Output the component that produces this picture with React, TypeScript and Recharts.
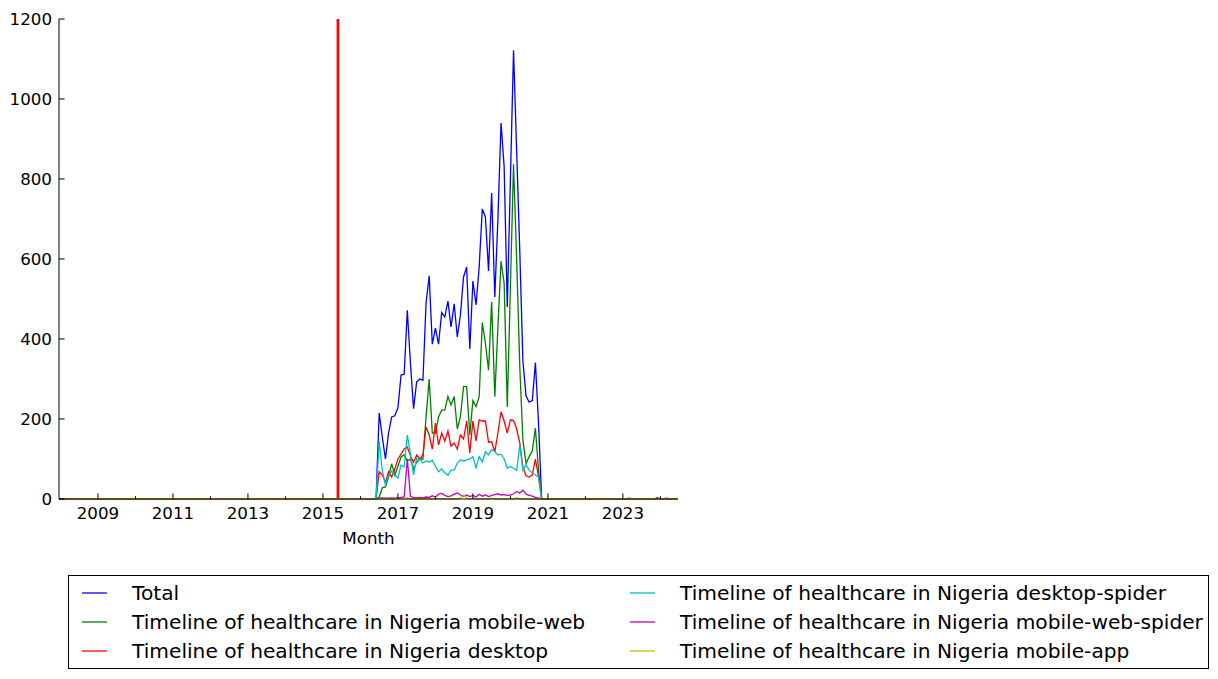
import React from 'react';
import { LineChart, Line, XAxis, YAxis, ReferenceLine } from 'recharts';

// monthly page views, Jul 2016 .. Oct 2020 (everything else is zero)
const FIRST_ACTIVE = '2016-07';

const TOTAL = [
  215, 155, 100, 165, 205, 208,
  228, 310, 312, 472, 340, 226, 293, 300, 297, 490, 558, 387,
  427, 387, 466, 455, 495, 430, 488, 405, 460, 555, 580, 375,
  545, 485, 580, 725, 705, 570, 765, 505, 700, 940, 830, 480,
  800, 1122, 870, 620, 345, 258, 242, 246, 341, 190,
];
const MOBILE_WEB = [
  5, 28, 30, 55, 88, 60,
  82, 105, 110, 95, 100, 75, 92, 100, 100, 205, 300, 165,
  165, 205, 222, 222, 256, 235, 256, 175, 206, 281, 281, 160,
  246, 231, 256, 441, 389, 322, 493, 256, 430, 595, 539, 230,
  530, 837, 600, 331, 147, 89, 106, 120, 177, 72,
];
const DESKTOP = [
  68, 60, 42, 68, 55, 75,
  100, 112, 125, 130, 108, 92, 110, 100, 110, 180, 160, 125,
  190, 135, 165, 145, 170, 132, 140, 125, 160, 150, 195, 115,
  195, 145, 198, 195, 195, 142, 143, 118, 165, 218, 195, 165,
  198, 196, 175, 140, 80, 58, 55, 60, 100, 55,
];
const DESKTOP_SPIDER = [
  145, 70, 35, 58, 70, 60,
  52, 85, 80, 160, 112, 60, 102, 100, 90, 95, 92, 97,
  82, 68, 75, 65, 60, 72, 72, 90, 98, 95, 98, 100,
  106, 78, 106, 93, 118, 110, 124, 118, 110, 112, 100, 77,
  81, 77, 72, 135, 72, 85, 72, 65, 60, 55,
];
const MOBILE_WEB_SPIDER = [
  2, 3, 2, 2, 3, 2,
  3, 4, 5, 100, 6, 4, 3, 4, 3, 5, 4, 8,
  5, 12, 14, 9, 6, 8, 12, 15, 10, 7, 10, 6,
  9, 5, 12, 7, 10, 6, 9, 11, 13, 10, 11, 9,
  10, 13, 19, 15, 22, 12, 9, 7, 4, 2,
];
const MOBILE_APP = [
  0, 0, 0, 0, 0, 0,
  0, 0, 1, 3, 0, 0, 0, 0, 0, 0, 0, 0,
  0, 0, 0, 0, 0, 0, 0, 0, 2, 10, 3, 0,
  2, 0, 0, 0, 0, 0, 2, 0, 0, 0, 0, 0,
  0, 0, 3, 0, 0, 0, 0, 0, 0, 0,
];

// a few tiny late blips
const LATE_TOTAL: Record<string, number> = { '2023-03': 2, '2023-12': 3, '2024-03': 2 };
const LATE_MOBILE_WEB_SPIDER: Record<string, number> = { '2023-12': 2 };

const MAJOR_YEARS = [2009, 2011, 2013, 2015, 2017, 2019, 2021, 2023];
const MINOR_YEARS = [2010, 2012, 2014, 2016, 2018, 2020, 2022, 2024];
const Y_TICKS = [0, 200, 400, 600, 800, 1000, 1200];
const MARKER_DATE = 2015.4;

const SERIES = [
  { key: 'total', name: 'Total', color: '#0000ff', values: TOTAL, late: LATE_TOTAL },
  { key: 'mobileWeb', name: 'Timeline of healthcare in Nigeria mobile-web', color: '#008000', values: MOBILE_WEB, late: {} },
  { key: 'desktop', name: 'Timeline of healthcare in Nigeria desktop', color: '#ff0000', values: DESKTOP, late: {} },
  { key: 'desktopSpider', name: 'Timeline of healthcare in Nigeria desktop-spider', color: '#00bfbf', values: DESKTOP_SPIDER, late: {} },
  { key: 'mobileWebSpider', name: 'Timeline of healthcare in Nigeria mobile-web-spider', color: '#bf00bf', values: MOBILE_WEB_SPIDER, late: LATE_MOBILE_WEB_SPIDER },
  { key: 'mobileApp', name: 'Timeline of healthcare in Nigeria mobile-app', color: '#bfbf00', values: MOBILE_APP, late: {} },
];

const MONTHS: string[] = [];
for (let y = 2007; y <= 2024; y++) {
  for (let m = 1; m <= 12; m++) {
    if ((y === 2007 && m < 12) || (y === 2024 && m > 7)) continue;
    MONTHS.push(`${y}-${String(m).padStart(2, '0')}`);
  }
}
const startIdx = MONTHS.indexOf(FIRST_ACTIVE);

const rows = MONTHS.map((ym, i) => {
  const [y, m] = ym.split('-').map(Number);
  const k = i - startIdx;
  const row: Record<string, number> = { x: y + (m - 1) / 12 };
  SERIES.forEach((s) => {
    row[s.key] = k >= 0 && k < s.values.length ? s.values[k] : (s.late as Record<string, number>)[ym] ?? 0;
  });
  return row;
});

const FONT = '"DejaVu Sans", sans-serif';
const MAJOR_LEN = 5.6;
const MINOR_LEN = 2.8;

const BottomTick = ({ x, y, payload }: any) => {
  const major = MAJOR_YEARS.includes(payload.value);
  return (
    <g>
      <line x1={x} x2={x} y1={y} y2={y - (major ? MAJOR_LEN : MINOR_LEN)} stroke="#000" />
      {major && (
        <text x={x} y={y + 20} textAnchor="middle" fontSize={16.7} fontFamily={FONT} fill="#000">
          {payload.value}
        </text>
      )}
    </g>
  );
};

const TopTick = ({ x, y, payload }: any) => {
  const major = MAJOR_YEARS.includes(payload.value);
  return <line x1={x} x2={x} y1={y} y2={y + (major ? MAJOR_LEN : MINOR_LEN)} stroke="#000" />;
};

const LeftTick = ({ x, y, payload }: any) => (
  <g>
    <line x1={x} x2={x + MAJOR_LEN} y1={y} y2={y} stroke="#000" />
    <text x={x - 7} y={y + 6} textAnchor="end" fontSize={16.7} fontFamily={FONT} fill="#000">
      {payload.value}
    </text>
  </g>
);

const RightTick = ({ x, y }: any) => <line x1={x} x2={x - MAJOR_LEN} y1={y} y2={y} stroke="#000" />;

const LEGEND_COLUMNS = [SERIES.slice(0, 3), SERIES.slice(3)];

export default function App() {
  return (
    <div style={{ position: 'relative', width: 1210, height: 671, fontFamily: FONT }}>
      <LineChart
        width={1210}
        height={560}
        data={rows}
        margin={{ top: 11, right: 540, bottom: 19, left: 0 }}
      >
        <XAxis
          dataKey="x"
          type="number"
          domain={[2007.96, 2024.47]}
          allowDataOverflow
          ticks={[...MAJOR_YEARS, ...MINOR_YEARS]}
          interval={0}
          tick={(p: any) => <BottomTick {...p} />}
          tickSize={0}
          tickMargin={0}
          tickLine={false}
          axisLine={{ stroke: '#000' }}
          height={50}
          label={{ value: 'Month', position: 'insideBottom', offset: 5, fontSize: 16.7, fill: '#000', fontFamily: FONT }}
        />
        <XAxis
          xAxisId="top"
          dataKey="x"
          type="number"
          orientation="top"
          domain={[2007.96, 2024.47]}
          allowDataOverflow
          ticks={[...MAJOR_YEARS, ...MINOR_YEARS]}
          interval={0}
          tick={(p: any) => <TopTick {...p} />}
          tickSize={0}
          tickMargin={0}
          tickLine={false}
          axisLine={{ stroke: '#000' }}
          height={0}
        />
        <YAxis
          domain={[0, 1200]}
          ticks={Y_TICKS}
          interval={0}
          width={51}
          tick={(p: any) => <LeftTick {...p} />}
          tickSize={0}
          tickMargin={0}
          tickLine={false}
          axisLine={{ stroke: '#000' }}
        />
        <YAxis
          yAxisId="right"
          orientation="right"
          domain={[0, 1200]}
          ticks={Y_TICKS}
          interval={0}
          width={0}
          tick={(p: any) => <RightTick {...p} />}
          tickSize={0}
          tickMargin={0}
          tickLine={false}
          axisLine={{ stroke: '#000' }}
        />
        <ReferenceLine x={MARKER_DATE} stroke="#ff0000" strokeWidth={2.7} />
        {SERIES.map((s) => (
          <Line
            key={s.key}
            type="linear"
            dataKey={s.key}
            name={s.name}
            stroke={s.color}
            strokeWidth={1.3}
            dot={false}
            isAnimationActive={false}
          />
        ))}
      </LineChart>
      <div
        style={{
          position: 'absolute',
          left: 60,
          top: 567,
          width: 1141,
          height: 94,
          border: '1px solid #000',
          boxSizing: 'border-box',
        }}
      >
        {LEGEND_COLUMNS.map((col, ci) =>
          col.map((s, ri) => (
            <div
              key={s.key}
              style={{
                position: 'absolute',
                left: ci === 0 ? 13 : 561,
                top: 7 + ri * 29,
                height: 20,
                display: 'flex',
                alignItems: 'center',
                whiteSpace: 'nowrap',
              }}
            >
              <svg width={25} height={4} style={{ display: 'block' }}>
                <line x1={0} x2={25} y1={2} y2={2} stroke={s.color} strokeWidth={1.3} />
              </svg>
              <span style={{ marginLeft: 25, fontSize: 20.2, lineHeight: '20px', color: '#000' }}>{s.name}</span>
            </div>
          ))
        )}
      </div>
    </div>
  );
}
